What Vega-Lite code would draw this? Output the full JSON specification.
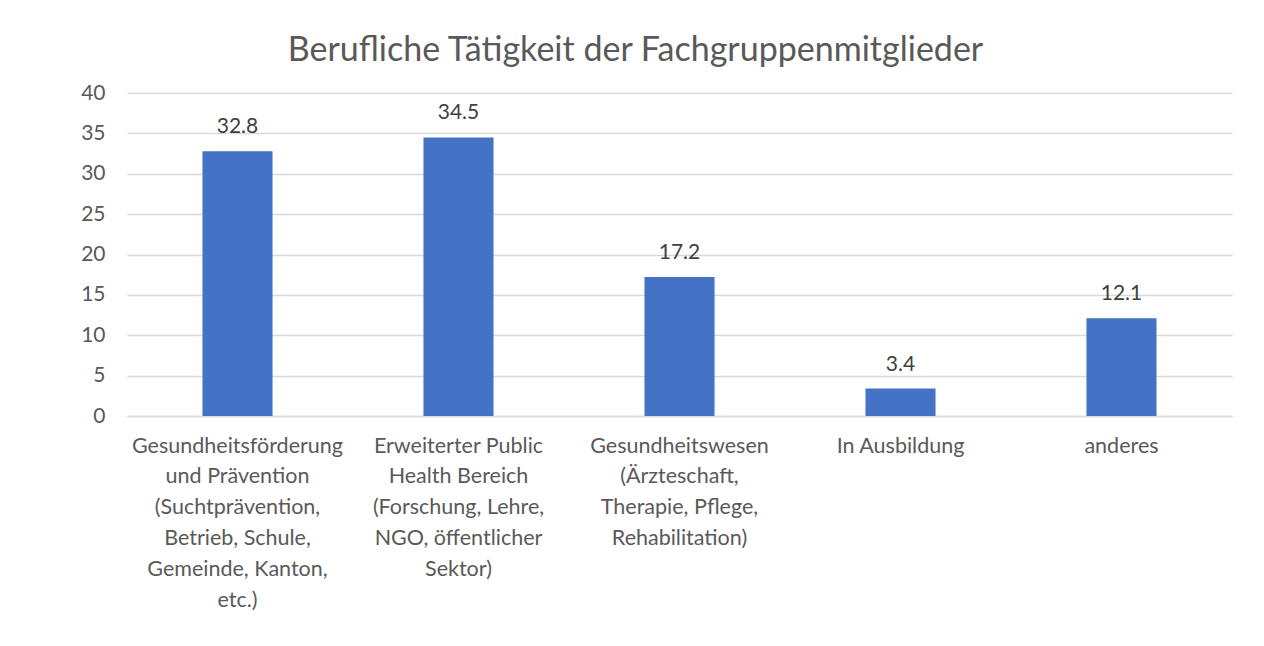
{
  "$schema": "https://vega.github.io/schema/vega-lite/v6.json",
  "width": 1105,
  "height": 323,
  "autosize": {"type": "none"},
  "padding": {"left": 127, "top": 93, "right": 32, "bottom": 230},
  "background": "white",
  "config": {
    "view": {"stroke": null},
    "font": "Lato",
    "axis": {"labelFont": "Lato", "labelColor": "#595959", "labelFontSize": 21, "titleFontSize": 18}
  },
  "title": {
    "text": "Berufliche Tätigkeit der Fachgruppenmitglieder",
    "fontSize": 34,
    "font": "Lato",
    "fontWeight": "normal",
    "color": "#595959",
    "anchor": "middle",
    "dx": -44,
    "offset": 14
  },
  "data": {
    "values": [
      {"kategorie": "Gesundheitsförderung|und Prävention|(Suchtprävention,|Betrieb, Schule,|Gemeinde, Kanton,|etc.)", "wert": 32.8},
      {"kategorie": "Erweiterter Public|Health Bereich|(Forschung, Lehre,|NGO, öffentlicher|Sektor)", "wert": 34.5},
      {"kategorie": "Gesundheitswesen|(Ärzteschaft,|Therapie, Pflege,|Rehabilitation)", "wert": 17.2},
      {"kategorie": "In Ausbildung", "wert": 3.4},
      {"kategorie": "anderes", "wert": 12.1}
    ]
  },
  "encoding": {
    "x": {
      "field": "kategorie",
      "type": "nominal",
      "sort": null,
      "scale": {"paddingInner": 0.683, "paddingOuter": 0.3415},
      "axis": {
        "title": null,
        "labelAngle": 0,
        "labelExpr": "split(datum.label, '|')",
        "labelLineHeight": 30.8,
        "labelBaseline": "top",
        "labelPadding": 19,
        "labelFontSize": 21.5,
        "ticks": false,
        "domainColor": "#D9D9D9",
        "domainWidth": 1.5,
        "labelLimit": 0
      }
    },
    "y": {
      "field": "wert",
      "type": "quantitative",
      "scale": {"domain": [0, 40], "nice": false},
      "axis": {
        "title": null,
        "values": [0, 5, 10, 15, 20, 25, 30, 35, 40],
        "domain": false,
        "ticks": false,
        "gridColor": "#D9D9D9",
        "gridWidth": 1.5,
        "labelPadding": 22
      }
    }
  },
  "layer": [
    {"mark": {"type": "bar", "color": "#4472C4"}},
    {
      "mark": {"type": "text", "baseline": "alphabetic", "dy": -18, "fontSize": 21, "color": "#404040", "font": "Lato"},
      "encoding": {"text": {"field": "wert", "type": "quantitative", "format": ".1f"}}
    }
  ]
}
